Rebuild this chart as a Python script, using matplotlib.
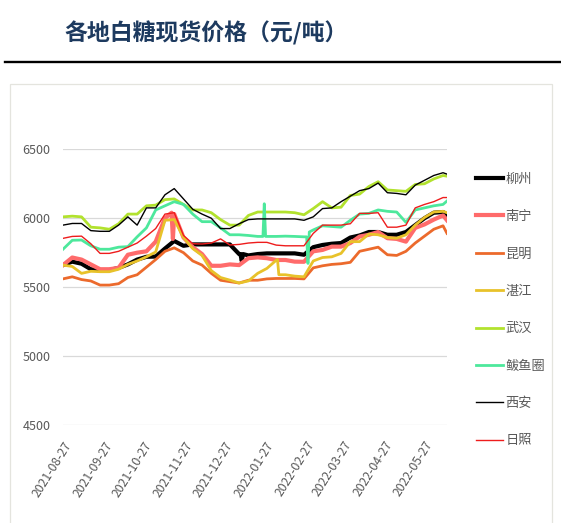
import numpy as np
import pandas as pd
import matplotlib
matplotlib.use("Agg")
import matplotlib.pyplot as plt
from matplotlib.lines import Line2D
from matplotlib.patches import Rectangle

plt.rcParams['font.family'] = ['Noto Sans CJK SC', 'DejaVu Sans']

# ---------------- data ----------------
title = "各地白糖现货价格（元/吨）"
start_date = "2021-08-27"
n_weeks = 42
end_date = "2022-06-13"
xtick_labels = ["2021-08-27", "2021-09-27", "2021-10-27", "2021-11-27", "2021-12-27",
                "2022-01-27", "2022-02-27", "2022-03-27", "2022-04-27", "2022-05-27"]
ytick_values = [4500, 5000, 5500, 6000, 6500]

series_names = ["柳州", "南宁", "昆明", "湛江", "武汉", "鲅鱼圈", "西安", "日照"]

liuzhou = [5660, 5685, 5670, 5630, 5624, 5624, 5640, 5665, 5700, 5720, 5722, 5780, 5835, 5800,
           5810, 5810, 5810, 5810, 5810,
           5740, 5730, 5740, 5745, 5745, 5745, 5745, 5735, 5790, 5806, 5815, 5820, 5860, 5875,
           5900, 5900, 5880, 5880, 5900, 5950, 6000, 6040, 6045, 6025]
nanning = [5660, 5715, 5700, 5665, 5630, 5630, 5640, 5735, 5750, 5760, 5830, 6000, 6030, 5860,
           5790, 5740, 5655, 5655, 5665,
           5660, 5710, 5716, 5710, 5697, 5697, 5685, 5684, 5760, 5770, 5794, 5794, 5820, 5867,
           5880, 5900, 5855, 5850, 5830, 5930, 5955, 5990, 6020, 5985]
kunming = [5560, 5575, 5555, 5545, 5515, 5515, 5525, 5570, 5590, 5645, 5700, 5760, 5785, 5750,
           5690, 5660, 5600, 5550, 5540,
           5530, 5550, 5550, 5560, 5563, 5563, 5563, 5560, 5640, 5655, 5665, 5670, 5680, 5760,
           5775, 5790, 5735, 5730, 5760, 5820, 5870, 5920, 5945, 5890]
zhanjiang = [5660, 5650, 5600, 5615, 5612, 5612, 5630, 5665, 5690, 5720, 5755, 5985, 5990, 5860,
             5780, 5730, 5620, 5570, 5551,
             5530, 5545, 5600, 5636, 5695, 5590, 5580, 5575, 5690, 5715, 5720, 5745, 5830, 5830,
             5885, 5880, 5860, 5855, 5880, 5950, 6005, 6045, 6050, 6040]
wuhan = [6010, 6015, 6010, 5935, 5930, 5920, 5960, 6030, 6030, 6090, 6095, 6135, 6140, 6100,
         6060, 6060, 6040, 5990, 5950,
         5950, 6020, 6045, 6045, 6045, 6045, 6040, 6025, 6070, 6120, 6075, 6080, 6165, 6175,
         6230, 6265, 6205, 6200, 6195, 6245, 6250, 6285, 6310, 6305]
bayuquan = [5775, 5840, 5842, 5800, 5775, 5775, 5790, 5794, 5865, 5930, 6060, 6090, 6120, 6100,
            6030, 5975, 5975, 5930, 5880,
            5880, 5875, 5868, 5868, 5868, 5870, 5868, 5865, 5915, 5945, 5940, 5935, 5985, 6030,
            6035, 6060, 6050, 6045, 5970, 6060, 6075, 6090, 6100, 6125]
xian = [5950, 5962, 5962, 5910, 5905, 5905, 5950, 6010, 5950, 6075, 6075, 6170, 6215, 6140,
        6065, 6030, 6000, 5925, 5925,
        5960, 5990, 5995, 5995, 5995, 5995, 5995, 5985, 6010, 6070, 6075, 6120, 6160, 6200,
        6215, 6255, 6185, 6180, 6170, 6240, 6275, 6310, 6330, 6320]
rizhao = [5854, 5868, 5870, 5815, 5745, 5745, 5760, 5790, 5820, 5870, 5925, 6030, 6040, 5875,
          5815, 5813, 5820, 5850, 5806,
          5810, 5820, 5825, 5825, 5805, 5800, 5800, 5800, 5890, 5950, 5950, 5950, 5960, 6035,
          6035, 6040, 5935, 5935, 5950, 6075, 6100, 6120, 6150, 6150]

# single-day spikes / dips seen in the picture
nanning_extra_dates = ["2021-11-17", "2021-11-18"]
nanning_extra_vals = [6040, 5850]
liuzhou_extra_dates = ["2022-01-08", "2022-01-09", "2022-01-10"]
liuzhou_extra_vals = [5740, 5690, 5740]
bayuquan_extra_dates = ["2022-01-25", "2022-01-26", "2022-01-27", "2022-02-27", "2022-02-28", "2022-03-01"]
bayuquan_extra_vals = [5868, 6105, 5868, 5865, 5672, 5900]
zhanjiang_extra_dates = ["2022-02-05", "2022-02-06"]
zhanjiang_extra_vals = [5700, 5590]

# ---------------- styles ----------------
colors = ["#000000", "#FF6B6B", "#EC6A2C", "#E8C22A", "#B2E22E", "#4DE89C", "#000000", "#EE1C1C"]
widths = [3.0, 3.0, 2.0, 2.0, 2.0, 2.0, 1.0, 1.0]

base_dates = pd.date_range(start_date, periods=n_weeks, freq="7D").append(pd.DatetimeIndex([end_date]))
values = [liuzhou, nanning, kunming, zhanjiang, wuhan, bayuquan, xian, rizhao]
extras = {
    "柳州": (liuzhou_extra_dates, liuzhou_extra_vals),
    "南宁": (nanning_extra_dates, nanning_extra_vals),
    "湛江": (zhanjiang_extra_dates, zhanjiang_extra_vals),
    "鲅鱼圈": (bayuquan_extra_dates, bayuquan_extra_vals),
}

W, H = 561, 523
fig = plt.figure(figsize=(W / 100, H / 100), dpi=100)

fig.text(64 / W, 1 - 33 / H, title, fontsize=16.5, fontweight="bold", color="#1D3A5F",
         ha="left", va="center")
fig.add_artist(Line2D([5 / W, 1.0], [1 - 62 / H, 1 - 62 / H], color="black", lw=1.7,
                      transform=fig.transFigure))
fig.add_artist(Rectangle((10 / W, -0.02), (552 - 10) / W, 1 - 84 / H + 0.02, fill=False,
                         edgecolor="#E4E4DE", lw=0.9, transform=fig.transFigure))

left, right, top, bottom = 63, 447, 149.3, 425
ax = fig.add_axes([left / W, 1 - bottom / H, (right - left) / W, (bottom - top) / H])

handles = []
for name, vals, c, lw in zip(series_names, values, colors, widths):
    d = np.array(base_dates.values)
    v = np.array(vals, dtype=float)
    if name in extras:
        ed, ev = extras[name]
        d = np.concatenate([d, pd.to_datetime(ed).values])
        v = np.concatenate([v, np.array(ev, dtype=float)])
    order = np.argsort(d)
    h, = ax.plot(d[order], v[order], color=c, lw=lw, label=name, solid_joinstyle="round")
    handles.append(h)

ax.set_ylim(4500, 6500)
ax.set_xlim(pd.Timestamp(start_date), pd.Timestamp(end_date))
ax.set_yticks(ytick_values)
ax.set_yticklabels([str(v) for v in ytick_values])
ax.set_xticks(pd.to_datetime(xtick_labels))
ax.set_xticklabels(xtick_labels, rotation=58, ha="right", rotation_mode="anchor")
for s in ax.spines.values():
    s.set_visible(False)
ax.grid(axis="y", color="#D9D9D9", lw=0.9)
ax.set_axisbelow(True)
ax.tick_params(axis="y", length=0, pad=9, labelsize=9, labelcolor="#595959")
ax.tick_params(axis="x", length=0, pad=10, labelsize=8.8, labelcolor="#595959")

leg = fig.legend(handles=handles, loc="center left", bbox_to_anchor=(476 / W, 1 - 310 / H),
                 bbox_transform=fig.transFigure, frameon=False, fontsize=9.5,
                 labelspacing=1.85, handlelength=2.05, handletextpad=0.2, borderpad=0,
                 borderaxespad=0)
for t in leg.get_texts():
    t.set_color("#595959")

fig.savefig("out.png", dpi=100)
